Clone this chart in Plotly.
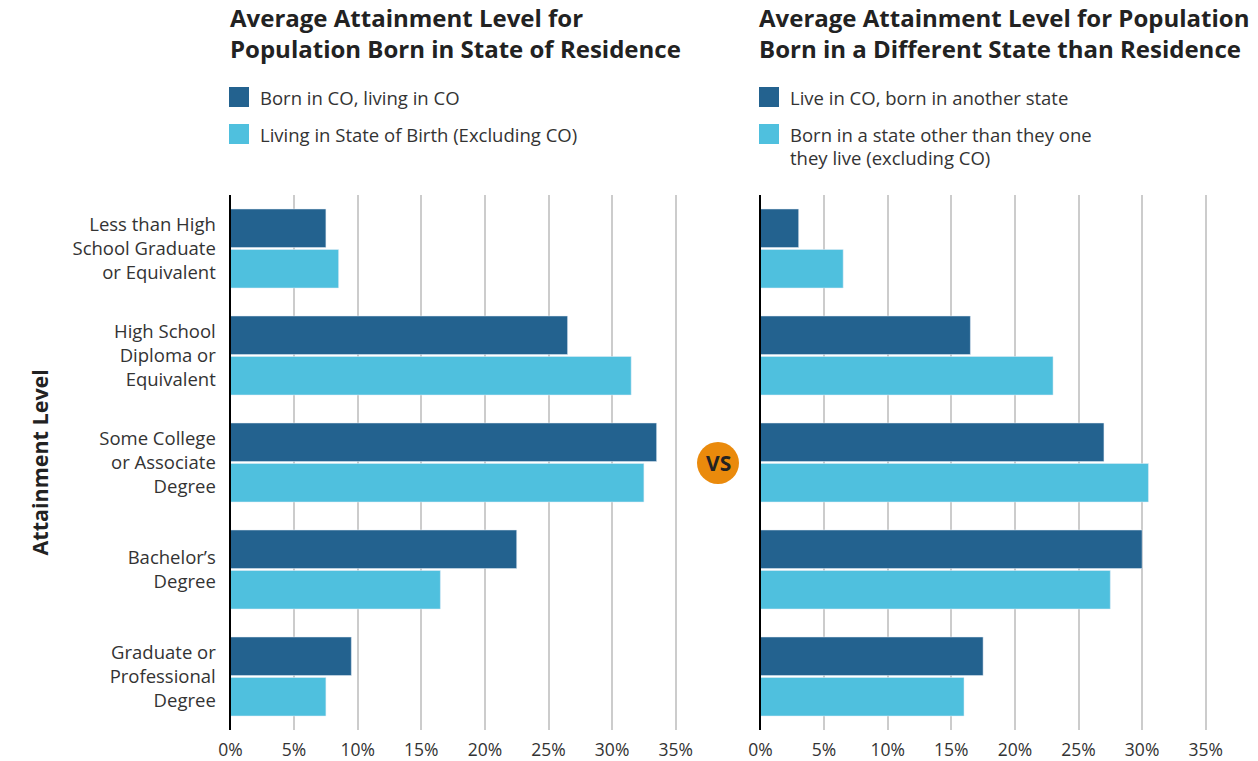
import plotly.graph_objects as go

categories = [
    "Less than High<br>School Graduate<br>or Equivalent",
    "High School<br>Diploma or<br>Equivalent",
    "Some College<br>or Associate<br>Degree",
    "Bachelor’s<br>Degree",
    "Graduate or<br>Professional<br>Degree",
]
born_co_living_co = [7.5, 26.5, 33.5, 22.5, 9.5]
living_state_of_birth_ex_co = [8.5, 31.5, 32.5, 16.5, 7.5]
live_co_born_other = [3.0, 16.5, 27.0, 30.0, 17.5]
born_other_ex_co = [6.5, 23.0, 30.5, 27.5, 16.0]
x_ticks = [0, 5, 10, 15, 20, 25, 30, 35]
x_tick_labels = [f"{v}%" for v in x_ticks]

DARK = "#23628F"
LIGHT = "#4FC0DE"
FONT = "Open Sans"
TXT = "#333333"
W, H = 1258, 761

def px_x(p):
    return p / W

def px_y(p):
    return 1 - p / H

fig = go.Figure()
fig.add_trace(go.Bar(y=categories, x=born_co_living_co, orientation="h", name="Born in CO, living in CO",
                     marker_color=DARK, xaxis="x", yaxis="y", showlegend=False))
fig.add_trace(go.Bar(y=categories, x=living_state_of_birth_ex_co, orientation="h",
                     name="Living in State of Birth (Excluding CO)", marker_color=LIGHT,
                     xaxis="x", yaxis="y", showlegend=False))
fig.add_trace(go.Bar(y=categories, x=live_co_born_other, orientation="h", name="Live in CO, born in another state",
                     marker_color=DARK, xaxis="x2", yaxis="y2", showlegend=False))
fig.add_trace(go.Bar(y=categories, x=born_other_ex_co, orientation="h",
                     name="Born in a state other than they one they live (excluding CO)", marker_color=LIGHT,
                     xaxis="x2", yaxis="y2", showlegend=False))

y_dom = [px_y(730), px_y(195)]
x1_left, x1_range = 230.5, 37
x2_left, x2_range = 760.5, 39
scale = 12.72

xaxis_common = dict(
    tickvals=x_ticks, ticktext=x_tick_labels, showgrid=True, gridcolor="#CCCCCC", gridwidth=2,
    zeroline=False, showline=False, ticks="", tickfont=dict(family=FONT, size=17.5, color=TXT),
    fixedrange=True, automargin=False, ticklabelstandoff=7,
)
fig.update_layout(
    width=W, height=H, margin=dict(l=0, r=0, t=0, b=0, pad=0, autoexpand=False),
    paper_bgcolor="white", plot_bgcolor="white",
    barmode="group", bargap=0.243, bargroupgap=0.05,
    font=dict(family=FONT, color=TXT),
    xaxis=dict(domain=[px_x(x1_left), px_x(x1_left + x1_range * scale)], range=[0, x1_range], anchor="y", **xaxis_common),
    xaxis2=dict(domain=[px_x(x2_left), px_x(x2_left + x2_range * scale)], range=[0, x2_range], anchor="y2", **xaxis_common),
    yaxis=dict(domain=y_dom, autorange="reversed", showline=True, linecolor="black", linewidth=2,
               showgrid=False, ticks="", ticklabelstandoff=9, anchor="x", automargin=False,
               tickfont=dict(family=FONT, size=18.5, color=TXT), fixedrange=True),
    yaxis2=dict(domain=y_dom, autorange="reversed", showline=True, linecolor="black", linewidth=2,
                showgrid=False, showticklabels=False, ticks="", anchor="x2", automargin=False, fixedrange=True),
)

annotations = []
shapes = []

def text_line(text, x, yc, size, bold=False, color=TXT, anchor="left"):
    annotations.append(dict(text=f"<b>{text}</b>" if bold else text, x=px_x(x), y=px_y(yc),
                            xref="paper", yref="paper", xanchor=anchor, yanchor="middle",
                            align="left", showarrow=False, font=dict(family=FONT, size=size, color=color)))

# titles
text_line("Average Attainment Level for<br>Population Born in State of Residence", 228, 33, 24, True, "#222222")
text_line("Average Attainment Level for Population<br>Born in a Different State than Residence", 757, 33, 24, True, "#222222")

# legends
def legend_item(x0, ycenter, color, lines):
    shapes.append(dict(type="rect", xref="paper", yref="paper", x0=px_x(x0), x1=px_x(x0 + 20),
                       y0=px_y(ycenter + 10), y1=px_y(ycenter - 10), fillcolor=color, line=dict(width=0)))
    for i, ln in enumerate(lines):
        text_line(ln, x0 + 29, ycenter + i * 23, 18.5)

legend_item(229, 97, DARK, ["Born in CO, living in CO"])
legend_item(229, 134, LIGHT, ["Living in State of Birth (Excluding CO)"])
legend_item(759, 97, DARK, ["Live in CO, born in another state"])
legend_item(759, 134, LIGHT, ["Born in a state other than they one", "they live (excluding CO)"])

# y axis title
annotations.append(dict(text="<b>Attainment Level</b>", x=px_x(22), y=px_y(463), xref="paper", yref="paper",
                        textangle=-90, showarrow=False, font=dict(family=FONT, size=21.5, color="#222222")))

# VS badge
shapes.append(dict(type="circle", xref="paper", yref="paper", x0=px_x(697), x1=px_x(739),
                   y0=px_y(484), y1=px_y(442), fillcolor="#EA8A0C", line=dict(width=0)))
annotations.append(dict(text="<b>VS</b>", x=px_x(718), y=px_y(463), xref="paper", yref="paper",
                        showarrow=False, font=dict(family=FONT, size=21, color="#222222")))

fig.update_layout(annotations=annotations, shapes=shapes)
fig.write_html("out.html", config={"displayModeBar": False},
               post_script="document.body.style.margin='0';document.body.style.overflow='hidden';")
